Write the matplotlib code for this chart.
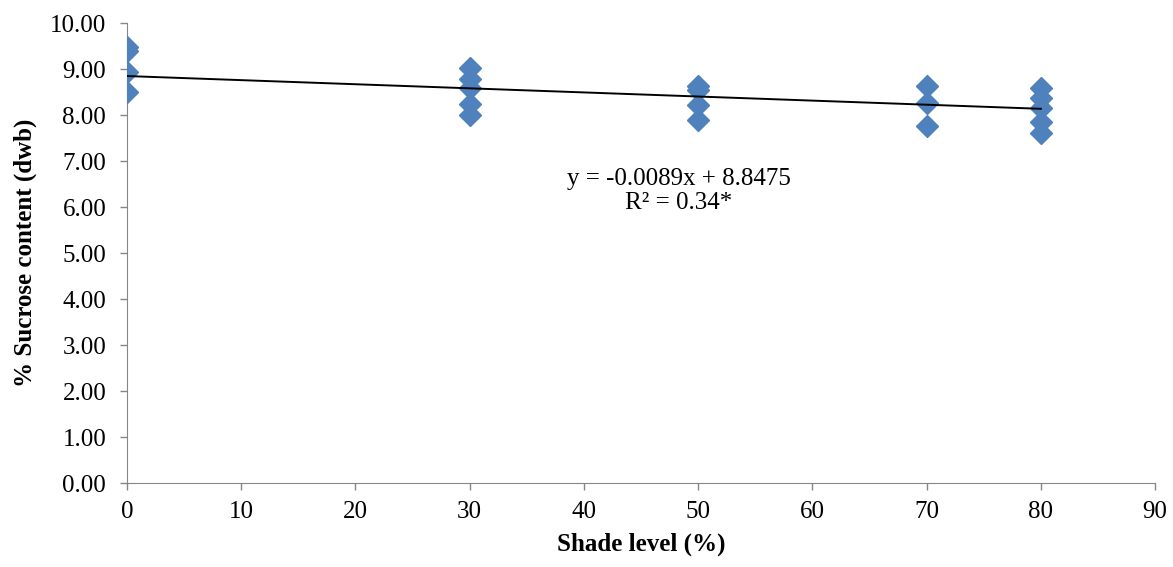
import matplotlib
matplotlib.use("Agg")
import matplotlib.pyplot as plt
import numpy as np

plt.rcParams["font.family"] = ["Liberation Serif", "DejaVu Serif"]

# shade level (%) and sucrose content readings
shade = [0, 0, 0, 0,
         30, 30, 30, 30, 30,
         50, 50, 50, 50,
         70, 70, 70,
         80, 80, 80, 80, 80]
sucrose = [9.48, 9.39, 8.93, 8.50,
           9.03, 8.78, 8.58, 8.24, 8.01,
           8.64, 8.55, 8.21, 7.89,
           8.64, 8.27, 7.77,
           8.58, 8.37, 8.16, 7.84, 7.60]

slope, intercept = -0.0089, 8.8475
trend_x = [0, 80]

fig = plt.figure(figsize=(11.73, 5.67), dpi=100)
ax = fig.add_axes([0.1083, 0.148, 0.8764, 0.8114])

ax.plot(shade, sucrose, linestyle="none", marker="D", markersize=11.5,
        color="#4F81BD", markeredgecolor="#4F81BD", zorder=3)
tx = np.array(trend_x)
ax.plot(tx, slope * tx + intercept, color="black", linewidth=1.4, zorder=4)

ax.set_xlim(0, 90)
ax.set_ylim(0, 10)
ax.set_xticks(range(0, 91, 10))
ax.set_yticks(np.arange(0, 10.01, 1))
ax.set_yticklabels([f"{v:.2f}" for v in np.arange(0, 10.01, 1)])

for side in ["top", "right"]:
    ax.spines[side].set_visible(False)
for side in ["left", "bottom"]:
    ax.spines[side].set_color("#868686")
ax.tick_params(axis="both", labelsize=18, color="#868686", length=5, width=1)
ax.tick_params(axis="y", pad=10)
ax.tick_params(axis="x", pad=8)

ax.set_xlabel("Shade level (%)", fontsize=18, fontweight="bold")
ax.set_ylabel("% Sucrose content (dwb)", fontsize=18, fontweight="bold")
ax.xaxis.set_label_coords(0.5, -0.108)
ax.yaxis.set_label_coords(-0.0875, 0.5)

ax.text(48.3, 6.47, "y = -0.0089x + 8.8475", fontsize=18, ha="center", va="baseline")
ax.text(48.3, 5.95, "R² = 0.34*", fontsize=18, ha="center", va="baseline")

fig.savefig("out.png", dpi=100)
